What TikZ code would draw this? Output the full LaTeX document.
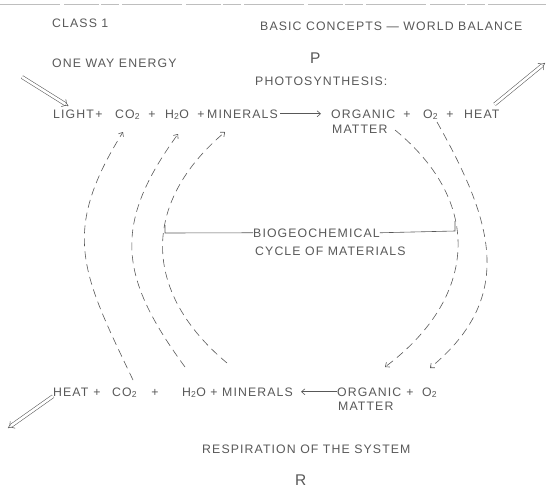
\documentclass[tikz,border=0pt]{standalone}
\usepackage{fontspec}
\usetikzlibrary{arrows.meta}
\newfontfamily\lettering[LetterSpace=9]{Liberation Sans}
\definecolor{inkgray}{RGB}{88,88,88}
\definecolor{rulegray}{RGB}{190,190,190}

\begin{document}
\begin{tikzpicture}[x=1pt, y=-1pt,
    lbl/.style={font=\lettering\fontsize{12.3}{14}\selectfont, text=inkgray, inner sep=0pt, anchor=base west},
    bigl/.style={font=\lettering\fontsize{15.5}{17}\selectfont, text=inkgray, inner sep=0pt, anchor=base west},
    flow/.style={draw=inkgray, line width=0.6pt},
    barb/.style={-{Straight Barb[length=3.5pt,width=6pt]}},
    cyc/.style={flow, barb, dash pattern=on 8pt off 5pt},
    energy/.style={draw=inkgray, line width=0.55pt, double, double distance=2.6pt, -{Implies}}]
\useasboundingbox (0,0) rectangle (546,490);

% scan edge along the top
\draw[rulegray, line width=0.6pt, dash pattern=on 60pt off 4pt on 35pt off 2pt on 18pt off 3pt] (0,4) -- (546,4);

% Headings
\node[lbl] (cls) at (52,27) {CLASS 1};
\node[lbl] (ttl) at (260,30) {BASIC CONCEPTS — WORLD BALANCE};
\node[lbl] (one) at (52,67) {ONE WAY ENERGY};
\node[bigl] (pp) at (310,63) {P};
\node[lbl] (pho) at (255,85) {PHOTOSYNTHESIS:};

% Photosynthesis line
\node[lbl] (tlight) at (53,118) {LIGHT};
\node[lbl] (tco2) at (115,118) {CO\textsubscript{2}};
\node[lbl] (th2o) at (165,118) {H\textsubscript{2}O};
\node[lbl] (tmin) at (207,118) {MINERALS};
\node[lbl] (torg) at (331,118) {ORGANIC};
\node[lbl] (tmat) at (332,133) {MATTER};
\node[lbl] (to2) at (423,118) {O\textsubscript{2}};
\node[lbl] (theat) at (464,118) {HEAT};
\foreach \x [count=\i] in {99,152,201,407,450}
    \node[lbl, anchor=base] (tp\i) at (\x,118) {+};
\draw[flow, barb, shorten <=2pt, shorten >=10pt] (tmin.east) -- (torg.west);

% Respiration line
\node[lbl] (bheat) at (53,396) {HEAT};
\node[lbl] (bco2) at (112,396) {CO\textsubscript{2}};
\node[lbl] (bh2o) at (182,396) {H\textsubscript{2}O};
\node[lbl] (bmin) at (222,396) {MINERALS};
\node[lbl] (borg) at (337,396) {ORGANIC};
\node[lbl] (bmat) at (338,410) {MATTER};
\node[lbl] (bo2) at (422,396) {O\textsubscript{2}};
\foreach \x [count=\i] in {97,155,214,410}
    \node[lbl, anchor=base] (bp\i) at (\x,396) {+};
\draw[flow, barb, shorten >=8pt] (borg.west) -- (bmin.east);

\node[lbl] (resp) at (202,453) {RESPIRATION OF THE SYSTEM};
\node[bigl] (rr) at (295,485) {R};

% Energy in and out
\coordinate (sunin) at (22,77);
\coordinate (sunout) at (545,63);
\coordinate (heatout) at (8,428);
\draw[energy, shorten >=6pt] (sunin) -- (tlight.north);
\draw[energy] ([xshift=-5pt,yshift=5pt]theat.north east) -- (sunout);
\draw[energy] (bheat.south west) -- (heatout);

% Cycle of materials
\node[lbl] (bio) at (253,237) {BIOGEOCHEMICAL};
\node[lbl] (cycl) at (255,255) {CYCLE OF MATERIALS};
\coordinate (bioL) at (165,233);
\coordinate (bioLt) at (165,225);
\coordinate (bioR) at (455,231);
\coordinate (bioRt) at (455,221);
\draw[flow] (bio.west) -- (bioL) -- (bioLt);
\draw[flow] (bio.east) -- (bioR) -- (bioRt);

% arcs: respiration products back up to photosynthesis
\coordinate (la1) at (133,380); \coordinate (lb1) at (123,132);
\coordinate (la2) at (185,367); \coordinate (lb2) at (178,134);
\coordinate (la3) at (227,363); \coordinate (lb3) at (225,132);
\draw[cyc] (la1) .. controls (82,273) and (60,233) .. (lb1);
\draw[cyc] (la2) .. controls (119,277) and (112,225) .. (lb2);
\draw[cyc] (la3) .. controls (142,292) and (141,203) .. (lb3);

% arcs: photosynthesis products down to respiration
\coordinate (ra1) at (395,130); \coordinate (rb1) at (385,367);
\coordinate (ra2) at (437,122); \coordinate (rb2) at (430,368);
\draw[cyc] (ra1) .. controls (484,203) and (477,298) .. (rb1);
\draw[cyc] (ra2) .. controls (492,220) and (517,296) .. (rb2);
\end{tikzpicture}
\end{document}
